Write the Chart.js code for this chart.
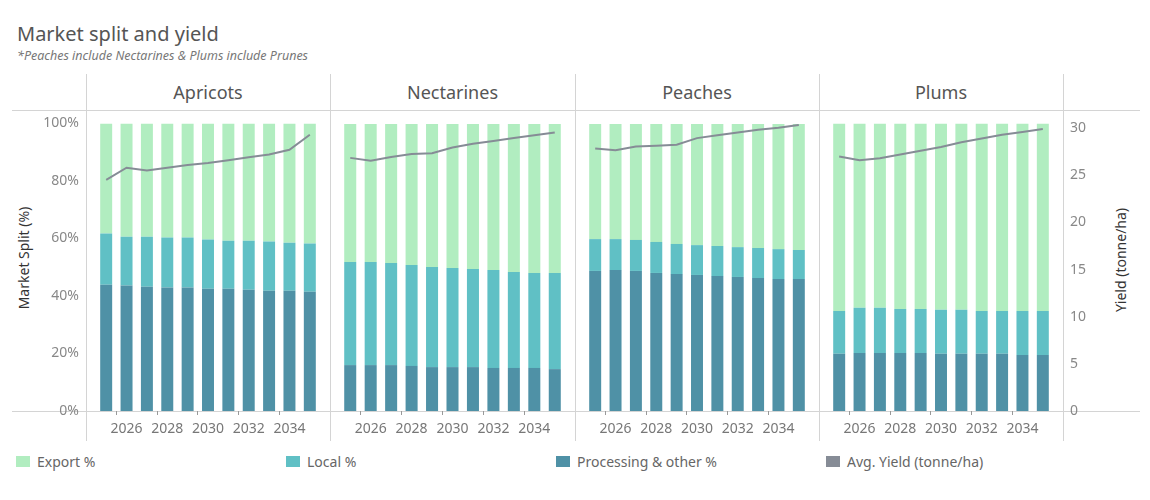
<!DOCTYPE html>
<html>
<head>
<meta charset="utf-8">
<script src="https://cdn.jsdelivr.net/npm/chart.js@4"></script>
<style>
  body { margin: 0; background: #fff; font-family: "Noto Sans", sans-serif; }
  #wrap { position: relative; width: 1150px; height: 500px; overflow: hidden; }
  .abs { position: absolute; }
  .hline { position: absolute; height: 1px; background: #d4d4d4; }
  .vline { position: absolute; width: 1px; background: #d4d4d4; }
  .panel-name { position: absolute; top: 80px; font-size: 18px; color: #555; text-align: center; }
  .leg { position: absolute; top: 452px; font-size: 14px; color: #666; display: flex; align-items: center; }
  .leg span.sw { display: inline-block; width: 14px; height: 11px; margin-right: 7px; }
  .ytitle { position: absolute; width: 160px; height: 20px; line-height: 20px; text-align: center;
            font-size: 14px; color: #333; transform: rotate(-90deg); }
</style>
</head>
<body>
<div id="wrap">
  <div class="abs" style="left:17px;top:20px;font-size:20px;color:#555;">Market split and yield</div>
  <div class="abs" style="left:17px;top:47px;font-size:12.5px;color:#777;font-style:italic;">*Peaches include Nectarines &amp; Plums include Prunes</div>

  <div class="hline" style="left:12px;top:110px;width:1128px;"></div>
  <div class="hline" style="left:12px;top:411px;width:1128px;"></div>
  <div class="vline" style="left:86px;top:74px;height:367px;"></div>
  <div class="vline" style="left:330px;top:74px;height:367px;"></div>
  <div class="vline" style="left:575px;top:74px;height:367px;"></div>
  <div class="vline" style="left:819px;top:74px;height:367px;"></div>
  <div class="vline" style="left:1063px;top:74px;height:367px;"></div>

  <div id="names"></div>

  <div class="ytitle" style="left:-56px;top:248px;">Market Split (%)</div>
  <div class="ytitle" style="left:1041px;top:250px;">Yield (tonne/ha)</div>

  <div class="abs" style="left:0px;top:98px;width:330px;height:352px;"><canvas id="c0"></canvas></div>
  <div class="abs" style="left:330px;top:110px;width:245px;height:340px;"><canvas id="c1"></canvas></div>
  <div class="abs" style="left:575px;top:110px;width:244px;height:340px;"><canvas id="c2"></canvas></div>
  <div class="abs" style="left:819px;top:98px;width:331px;height:352px;"><canvas id="c3"></canvas></div>

  <div class="leg" style="left:16px;"><span class="sw" style="background:#b1edc0"></span>Export %</div>
  <div class="leg" style="left:286px;"><span class="sw" style="background:#60c0c5"></span>Local %</div>
  <div class="leg" style="left:556px;"><span class="sw" style="background:#4f91a6"></span>Processing &amp; other %</div>
  <div class="leg" style="left:826px;"><span class="sw" style="background:#868c96"></span>Avg. Yield (tonne/ha)</div>
</div>

<script>
// Years on the x axis
var years = ['2025', '2026', '2027', '2028', '2029', '2030', '2031', '2032', '2033', '2034', '2035'];
var fruits = ['Apricots', 'Nectarines', 'Peaches', 'Plums'];

// Processing & other % (bottom of each bar)
var processingApricots = [43.9, 43.6, 43.2, 42.9, 42.9, 42.5, 42.5, 42.2, 41.8, 41.8, 41.5];
var processingNectarines = [16.0, 16.0, 16.0, 15.7, 15.3, 15.3, 15.3, 15.0, 15.0, 15.0, 14.6];
var processingPeaches = [48.8, 49.1, 48.8, 48.1, 47.7, 47.4, 47.0, 46.7, 46.3, 46.0, 46.0];
var processingPlums = [19.9, 20.2, 20.2, 20.2, 20.2, 19.9, 19.9, 19.9, 19.9, 19.5, 19.5];

// Local %
var localApricots = [17.8, 17.0, 17.4, 17.4, 17.4, 17.1, 16.7, 17.0, 17.1, 16.7, 16.7];
var localNectarines = [35.9, 35.9, 35.6, 35.2, 34.9, 34.5, 34.2, 34.1, 33.4, 33.1, 33.5];
var localPeaches = [11.1, 10.8, 10.8, 10.8, 10.5, 10.4, 10.5, 10.4, 10.5, 10.4, 10.1];
var localPlums = [14.9, 15.7, 15.7, 15.3, 15.3, 15.3, 15.3, 14.9, 14.9, 15.3, 15.3];

// Export %
var exportApricots = [38.3, 39.4, 39.4, 39.7, 39.7, 40.4, 40.8, 40.8, 41.1, 41.5, 41.8];
var exportNectarines = [48.1, 48.1, 48.4, 49.1, 49.8, 50.2, 50.5, 50.9, 51.6, 51.9, 51.9];
var exportPeaches = [40.1, 40.1, 40.4, 41.1, 41.8, 42.2, 42.5, 42.9, 43.2, 43.6, 43.9];
var exportPlums = [65.2, 64.1, 64.1, 64.5, 64.5, 64.8, 64.8, 65.2, 65.2, 65.2, 65.2];

// Avg. yield (tonne/ha)
var yieldApricots = [24.5, 25.8, 25.5, 25.8, 26.1, 26.3, 26.6, 26.9, 27.2, 27.7, 29.3];
var yieldNectarines = [26.9, 26.6, 27.0, 27.3, 27.4, 28.0, 28.4, 28.7, 29.0, 29.3, 29.6];
var yieldPeaches = [27.9, 27.7, 28.1, 28.2, 28.3, 29.0, 29.3, 29.6, 29.9, 30.1, 30.4];
var yieldPlums = [27.0, 26.6, 26.8, 27.2, 27.6, 28.0, 28.5, 28.9, 29.3, 29.6, 29.9];

var splitTicks = [0, 20, 40, 60, 80, 100];
var yieldTicks = [0, 5, 10, 15, 20, 25, 30];

var processing = [processingApricots, processingNectarines, processingPeaches, processingPlums];
var local = [localApricots, localNectarines, localPeaches, localPlums];
var exports = [exportApricots, exportNectarines, exportPeaches, exportPlums];
var yields = [yieldApricots, yieldNectarines, yieldPeaches, yieldPlums];

var tickFont = { family: 'Noto Sans', size: 14 };
var panelLeft = [86, 330, 575, 819];
var panelRight = [330, 575, 819, 1063];

// panel headers
var names = document.getElementById('names');
fruits.forEach(function (f, i) {
    var d = document.createElement('div');
    d.className = 'panel-name';
    d.style.left = panelLeft[i] + 'px';
    d.style.width = (panelRight[i] - panelLeft[i]) + 'px';
    d.textContent = f;
    names.appendChild(d);
});

function drawPanel(i) {
    var first = i === 0;
    var last = i === 3;
    var edge = first || last;

    new Chart(document.getElementById('c' + i), {
        type: 'bar',
        data: {
            labels: years,
            datasets: [
                {
                    type: 'line',
                    label: 'Avg. Yield (tonne/ha)',
                    data: yields[i],
                    yAxisID: 'y1',
                    borderColor: '#868c96',
                    borderWidth: 2,
                    pointRadius: 0,
                    tension: 0,
                    order: 0
                },
                { label: 'Processing & other %', data: processing[i], backgroundColor: '#4f91a6', order: 1 },
                { label: 'Local %', data: local[i], backgroundColor: '#60c0c5', order: 1 },
                { label: 'Export %', data: exports[i], backgroundColor: '#b1edc0', order: 1 }
            ]
        },
        options: {
            responsive: true,
            maintainAspectRatio: false,
            animation: false,
            // edge panels get extra top room from the tick labels (canvas moved up to match)
            layout: { padding: { top: edge ? 2 : 14, left: first ? 0 : 10, right: last ? 0 : 10, bottom: 0 } },
            plugins: { legend: { display: false }, tooltip: { enabled: false } },
            datasets: { bar: { barPercentage: 0.98, categoryPercentage: 0.6 } },
            scales: {
                x: {
                    stacked: true,
                    border: { display: false },
                    grid: {
                        drawOnChartArea: false,
                        tickLength: 4,
                        tickColor: function (ctx) { return ctx.index % 2 === 1 ? '#999' : 'rgba(0,0,0,0)'; }
                    },
                    ticks: {
                        autoSkip: false,
                        maxRotation: 0,
                        padding: 6,
                        color: '#777',
                        font: tickFont,
                        callback: function (v, idx) { return idx % 2 === 1 ? years[idx] : ''; }
                    },
                    afterFit: function (scale) { scale.height = 39; }
                },
                y: {
                    stacked: true,
                    display: first,
                    min: 0,
                    max: 100,
                    border: { display: false },
                    grid: { display: false, drawTicks: false },
                    afterBuildTicks: function (scale) {
                        scale.ticks = splitTicks.map(function (v) { return { value: v }; });
                    },
                    ticks: {
                        padding: 17,
                        color: '#888',
                        font: tickFont,
                        callback: function (v) { return v + '%'; }
                    },
                    afterFit: function (scale) { scale.width = first ? 96 : 0; }
                },
                y1: {
                    position: 'right',
                    display: last,
                    min: 0,
                    max: 30.5,
                    border: { display: false },
                    grid: { display: false, drawTicks: false },
                    afterBuildTicks: function (scale) {
                        scale.ticks = yieldTicks.map(function (v) { return { value: v }; });
                    },
                    ticks: { padding: 17, color: '#888', font: tickFont },
                    afterFit: function (scale) { scale.width = last ? 97 : 0; }
                }
            }
        }
    });
}

window.onload = function () {
    for (var i = 0; i < 4; i++) drawPanel(i);
};
</script>
</body>
</html>
